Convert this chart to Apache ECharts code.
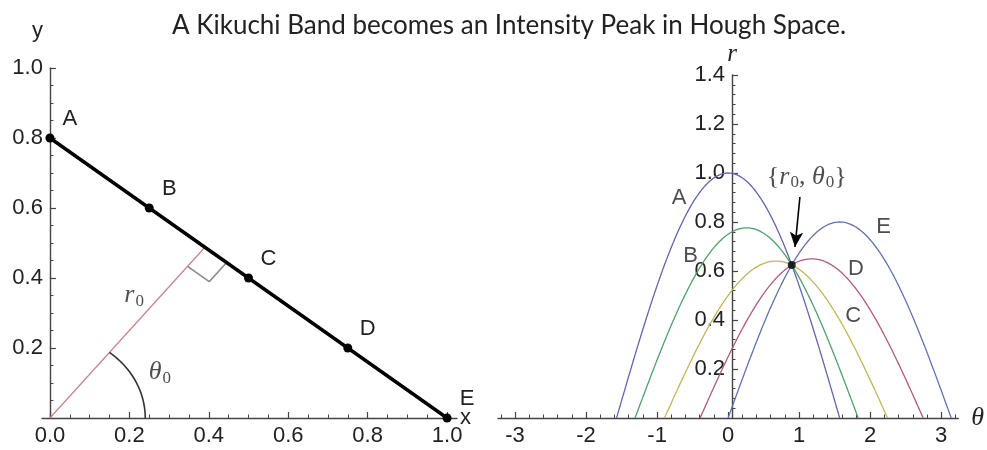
<!DOCTYPE html>
<html>
<head>
<meta charset="utf-8">
<script src="https://cdn.jsdelivr.net/npm/echarts@6/dist/echarts.min.js"></script>
<style>
  html, body { margin: 0; padding: 0; background: #fff; }
  #chart { width: 987px; height: 450px; }
</style>
</head>
<body>
<div id="chart"></div>
<script>
// ---- data ---------------------------------------------------------------
const titleText = 'A Kikuchi Band becomes an Intensity Peak in Hough Space.';

// Points sitting on the Kikuchi band (image space)
const pointNames = ['A', 'B', 'C', 'D', 'E'];
const pointX = [0, 0.25, 0.5, 0.75, 1.0];
const pointY = [0.8, 0.6, 0.4, 0.2, 0];

// Hough-space sinusoids r = x cos(theta) + y sin(theta), one per labelled curve
const curveNames = ['A', 'B', 'C', 'D', 'E'];
const curveX = [1.0, 0.75, 0.5, 0.25, 0];
const curveY = [0, 0.2, 0.4, 0.6, 0.8];
const curveColors = ['#6464b0', '#50a06e', '#c4b45a', '#b05a7c', '#6470b4'];

// Tick labels
const leftXTicks = [0, 0.2, 0.4, 0.6, 0.8, 1.0];
const leftYTicks = [0.2, 0.4, 0.6, 0.8, 1.0];
const thetaTicks = [-3, -2, -1, 0, 1, 2, 3];
const rTicks = [0.2, 0.4, 0.6, 0.8, 1.0, 1.2, 1.4];

// ---- derived geometry ---------------------------------------------------
// normal form of the band through its end points: x cos(t0) + y sin(t0) = r0
const dx = pointX[4] - pointX[0], dy = pointY[4] - pointY[0];
const nLen = Math.hypot(dx, dy);
const nx = -dy / nLen, ny = dx / nLen;
const theta0 = Math.atan2(ny, nx);
const r0 = nx * pointX[0] + ny * pointY[0];
const foot = [r0 * Math.cos(theta0), r0 * Math.sin(theta0)];

// right-angle marker at the foot of the normal
const sq = 0.07;
const ux = -Math.cos(theta0), uy = -Math.sin(theta0);
const vx = Math.sin(theta0), vy = -Math.cos(theta0);
const rightAngle = [
  [foot[0] + sq * ux, foot[1] + sq * uy],
  [foot[0] + sq * (ux + vx), foot[1] + sq * (uy + vy)],
  [foot[0] + sq * vx, foot[1] + sq * vy]
];

// arc marking theta0 at the origin
const arcR = 0.24;
const arc = [];
for (let i = 0; i <= 40; i++) {
  const t = theta0 * i / 40;
  arc.push([arcR * Math.cos(t), arcR * Math.sin(t)]);
}

// sample each Hough curve over the half-period where r >= 0
function houghCurve(x, y) {
  const phi = Math.atan2(y, x);
  const a = phi - Math.PI / 2, b = phi + Math.PI / 2;
  const n = 320, pts = [];
  for (let i = 0; i <= n; i++) {
    const t = a + (b - a) * i / n;
    pts.push([t, Math.max(0, x * Math.cos(t) + y * Math.sin(t))]);
  }
  return pts;
}

function range(a, b, step) {
  const out = [], n = Math.round((b - a) / step);
  for (let i = 0; i <= n; i++) out.push(+(a + i * step).toFixed(4));
  return out;
}

// ---- layout / style -----------------------------------------------------
const ink = '#222';
const axisInk = '#444';
const sans = 'Liberation Sans';
const serif = 'Liberation Serif';
const tickFont = { fontFamily: sans, fontSize: 22, color: ink };

const grids = [
  { left: 42, top: 68, width: 415, height: 350, xMin: -0.02, xMax: 1.025, yMin: 0, yMax: 1.0 },
  { left: 498, top: 75, width: 468, height: 343, xMin: -3.24, xMax: 3.24, yMin: 0, yMax: 1.4 }
];
// vertical axes cross the horizontal one at x = 0: shift them in from the grid edge
const yShift = grids.map(g => -(0 - g.xMin) / (g.xMax - g.xMin) * g.width);

// text anchors for the annotations (data coordinates of each panel)
const r0LabelAt = [0.212, 0.351];
const theta0LabelAt = [0.277, 0.131];
const curveLabelAt = [[-0.69, 0.898], [-0.53, 0.661], [1.76, 0.416], [1.80, 0.608], [2.19, 0.780]];
const arrowFrom = [1.011, 0.902], arrowTo = [0.942, 0.698];

// main axis (line, major ticks, labels) plus an overlaid axis carrying the minor ticks
function valueAxis(gridIndex, min, max, majors, minors, fmt, extra) {
  const main = Object.assign({
    type: 'value', gridIndex, min, max,
    splitLine: { show: false },
    nameMoveOverlap: false,
    axisLine: { show: true, onZero: false, lineStyle: { color: axisInk, width: 1.4 } },
    axisTick: { show: true, inside: true, length: 6, customValues: majors, lineStyle: { color: axisInk, width: 1.2 } },
    axisLabel: Object.assign({ show: true, margin: 7, customValues: majors, formatter: fmt }, tickFont)
  }, extra || {});
  const minor = {
    type: 'value', gridIndex, min, max,
    splitLine: { show: false },
    axisLine: { show: false, onZero: false },
    axisTick: { show: true, inside: true, length: 3.5, customValues: minors, lineStyle: { color: axisInk, width: 1 } },
    axisLabel: { show: false }
  };
  if (extra && extra.offset != null) minor.offset = extra.offset;
  return [main, minor];
}

const fmt1 = v => v.toFixed(1);
const fmt0 = v => String(v);

const xAxes = [
  ...valueAxis(0, grids[0].xMin, grids[0].xMax, leftXTicks, range(0, 1, 0.05), fmt1, {
    position: 'bottom', name: 'x', nameLocation: 'end', nameGap: 3,
    nameTextStyle: { fontFamily: sans, fontSize: 22, color: ink, verticalAlign: 'middle', padding: [16, 0, 0, 0] }
  }),
  ...valueAxis(1, grids[1].xMin, grids[1].xMax, thetaTicks, range(-3.2, 3.2, 0.2), fmt0, {
    position: 'bottom', name: 'θ', nameLocation: 'end', nameGap: 13,
    nameTextStyle: { fontFamily: serif, fontStyle: 'italic', fontSize: 26, color: ink, verticalAlign: 'middle' }
  })
];
const yAxes = [
  ...valueAxis(0, grids[0].yMin, grids[0].yMax, leftYTicks, range(0.05, 1, 0.05), fmt1, {
    position: 'left', offset: yShift[0], name: 'y', nameLocation: 'end', nameGap: 26,
    nameTextStyle: { fontFamily: sans, fontSize: 22, color: ink, align: 'right', verticalAlign: 'bottom', padding: [0, 7, 0, 0] }
  }),
  ...valueAxis(1, grids[1].yMin, grids[1].yMax, rTicks, range(0.04, 1.4, 0.04), fmt1, {
    position: 'left', offset: yShift[1], name: 'r', nameLocation: 'end', nameGap: 8,
    nameTextStyle: { fontFamily: serif, fontStyle: 'italic', fontSize: 25, color: ink, align: 'center', verticalAlign: 'bottom' }
  })
];
[xAxes[1], xAxes[3]].forEach(a => { a.position = 'bottom'; });
[yAxes[1], yAxes[3]].forEach(a => { a.position = 'left'; });

const subRich = {
  i: { fontFamily: serif, fontStyle: 'italic', fontSize: 26, color: ink },
  s: { fontFamily: serif, fontSize: 17, color: ink, verticalAlign: 'bottom', padding: [12, 0, 0, 1] }
};

const series = [];

// image space: the band and its points
series.push({
  type: 'line', name: 'band', xAxisIndex: 0, yAxisIndex: 0,
  data: pointX.map((x, i) => [x, pointY[i]]),
  symbol: 'circle', symbolSize: 9, showSymbol: true,
  lineStyle: { color: '#000', width: 3.4 },
  itemStyle: { color: '#000' },
  label: {
    show: true, position: 'inside', offset: [20, -19],
    formatter: p => pointNames[p.dataIndex],
    fontFamily: sans, fontSize: 22, color: ink
  },
  z: 5
});
series.push({
  type: 'line', name: 'normal', xAxisIndex: 0, yAxisIndex: 0,
  data: [[0, 0], foot], symbol: 'none',
  lineStyle: { color: '#c9808e', width: 1.2 }, z: 3
});
series.push({
  type: 'line', name: 'right angle', xAxisIndex: 0, yAxisIndex: 0,
  data: rightAngle, symbol: 'none',
  lineStyle: { color: '#8a8a8a', width: 1.6 }, z: 3
});
series.push({
  type: 'line', name: 'theta arc', xAxisIndex: 0, yAxisIndex: 0,
  data: arc, symbol: 'none', smooth: false,
  lineStyle: { color: '#333', width: 1.6 }, z: 3
});
series.push({
  type: 'scatter', name: 'image notes', xAxisIndex: 0, yAxisIndex: 0,
  symbolSize: 0, silent: true,
  data: [
    { value: r0LabelAt, label: { formatter: '{i|r}{s|0}' } },
    { value: theta0LabelAt, label: { formatter: '{i|θ}{s|0}' } }
  ],
  label: { show: true, position: 'inside', rich: subRich }
});

// Hough space: one sinusoid per point
curveNames.forEach((name, i) => {
  series.push({
    type: 'line', name: 'curve ' + name, xAxisIndex: 2, yAxisIndex: 2,
    data: houghCurve(curveX[i], curveY[i]), symbol: 'none', showSymbol: false,
    lineStyle: { color: curveColors[i], width: 1.3 }, z: 3
  });
});
series.push({
  type: 'scatter', name: 'curve names', xAxisIndex: 2, yAxisIndex: 2,
  symbolSize: 0, silent: true,
  data: curveLabelAt.map((p, i) => ({ value: p, name: curveNames[i] })),
  label: { show: true, position: 'inside', formatter: p => p.name, fontFamily: sans, fontSize: 22, color: ink }
});
series.push({
  type: 'scatter', name: 'peak', xAxisIndex: 2, yAxisIndex: 2,
  data: [[theta0, r0]], symbol: 'circle', symbolSize: 8,
  itemStyle: { color: '#000' },
  label: {
    show: true, position: 'inside', offset: [15, -88],
    formatter: '{{i|r}{s|0}, {i|θ}{s|0}}',
    fontFamily: serif, fontSize: 26, color: ink, rich: subRich
  },
  markLine: {
    silent: true, symbol: ['none', 'arrow'], symbolSize: [10, 15],
    lineStyle: { color: '#000', width: 1.6, type: 'solid' },
    label: { show: false },
    data: [[{ coord: arrowFrom }, { coord: arrowTo }]]
  },
  z: 6
});

const chart = echarts.init(document.getElementById('chart'), null, { renderer: 'canvas' });
chart.setOption({
  animation: false,
  backgroundColor: '#fff',
  title: {
    text: titleText, left: 167, top: 8,
    textStyle: { fontFamily: 'Lato', fontSize: 26, fontWeight: 'normal', color: ink }
  },
  grid: grids.map(g => ({ left: g.left, top: g.top, width: g.width, height: g.height, containLabel: false })),
  xAxis: xAxes,
  yAxis: yAxes,
  series
});
</script>
</body>
</html>
